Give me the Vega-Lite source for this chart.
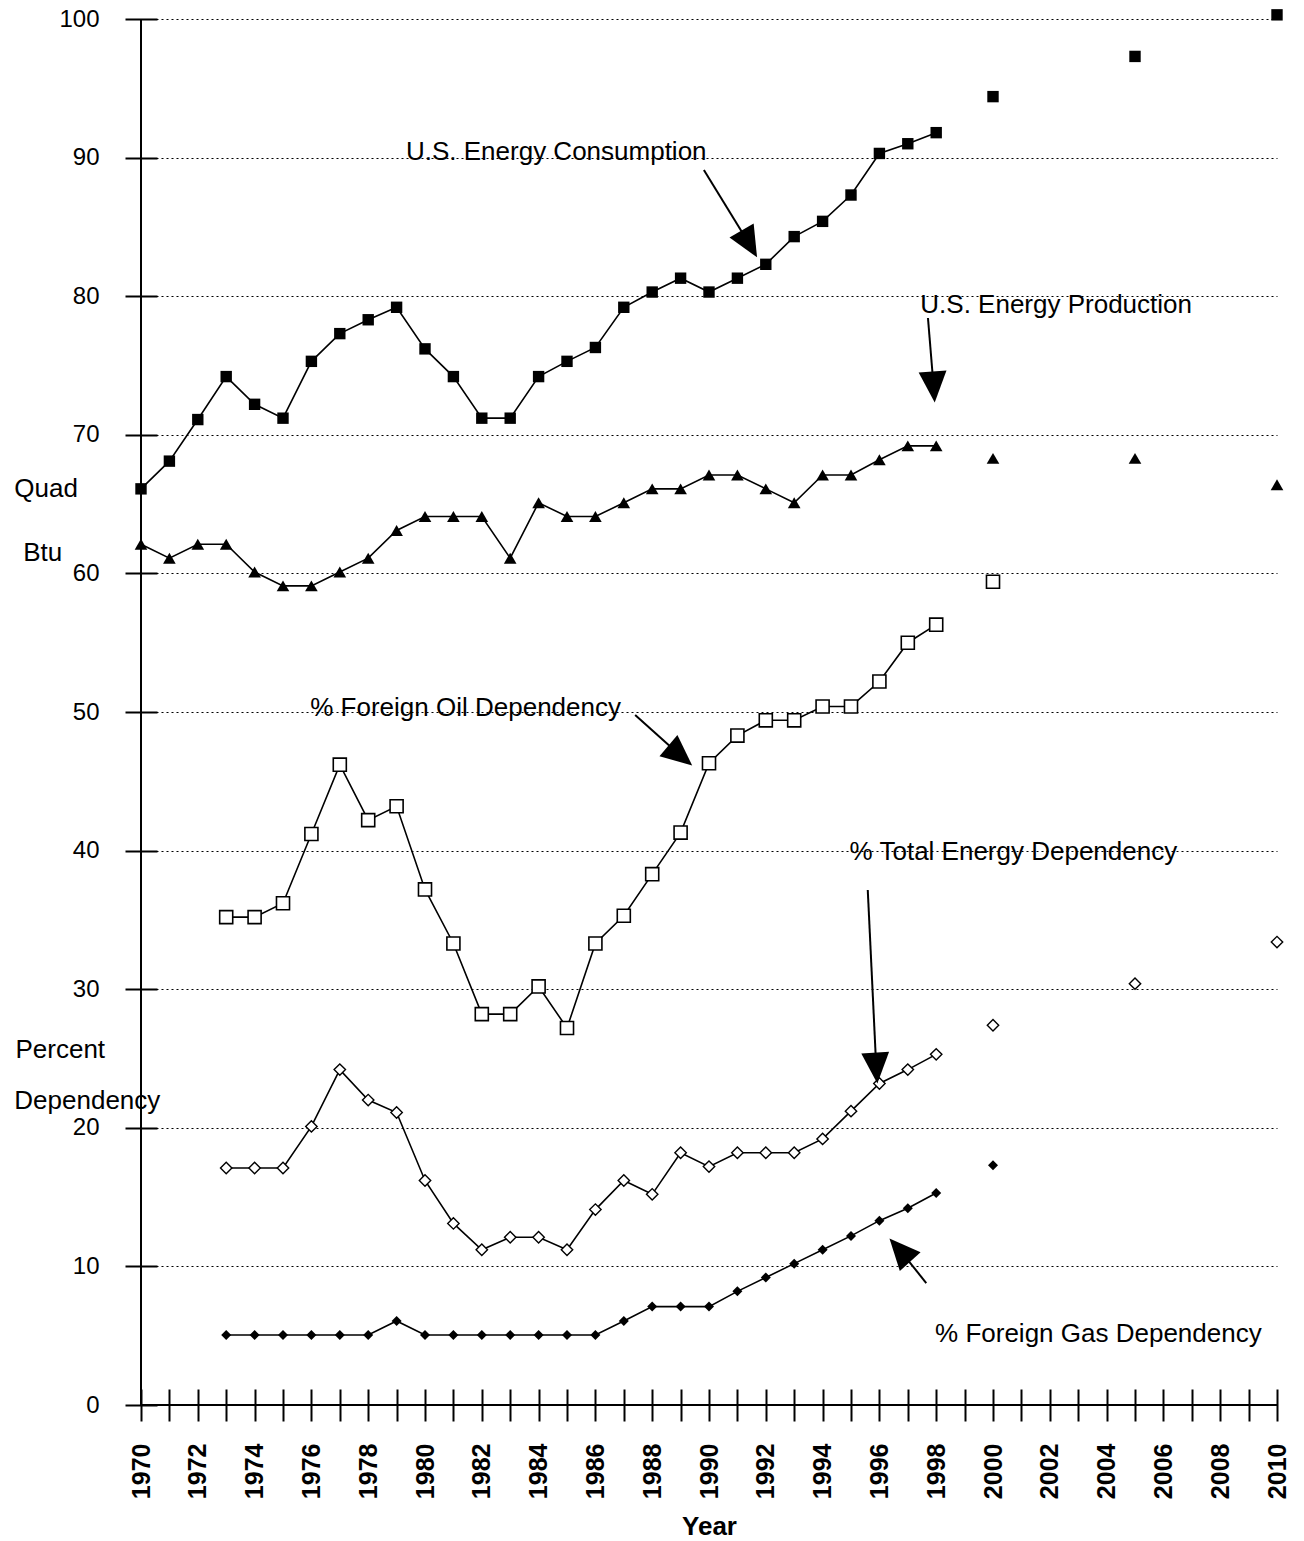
{
  "$schema": "https://vega.github.io/schema/vega-lite/v6.json",
  "width": 1136,
  "height": 1386,
  "autosize": {"type": "none"},
  "padding": {"left": 141, "top": 19, "right": 27, "bottom": 136},
  "background": "white",
  "config": {
    "view": {"stroke": null},
    "font": "Liberation Sans",
    "axis": {"labelColor": "black", "titleColor": "black", "tickColor": "black", "labelFont": "Liberation Sans", "titleFont": "Liberation Sans"}
  },
  "datasets": {
    "series": [
      {"s": "cons", "year": 1970, "value": 66.1, "proj": 0},
      {"s": "cons", "year": 1971, "value": 68.1, "proj": 0},
      {"s": "cons", "year": 1972, "value": 71.1, "proj": 0},
      {"s": "cons", "year": 1973, "value": 74.2, "proj": 0},
      {"s": "cons", "year": 1974, "value": 72.2, "proj": 0},
      {"s": "cons", "year": 1975, "value": 71.2, "proj": 0},
      {"s": "cons", "year": 1976, "value": 75.3, "proj": 0},
      {"s": "cons", "year": 1977, "value": 77.3, "proj": 0},
      {"s": "cons", "year": 1978, "value": 78.3, "proj": 0},
      {"s": "cons", "year": 1979, "value": 79.2, "proj": 0},
      {"s": "cons", "year": 1980, "value": 76.2, "proj": 0},
      {"s": "cons", "year": 1981, "value": 74.2, "proj": 0},
      {"s": "cons", "year": 1982, "value": 71.2, "proj": 0},
      {"s": "cons", "year": 1983, "value": 71.2, "proj": 0},
      {"s": "cons", "year": 1984, "value": 74.2, "proj": 0},
      {"s": "cons", "year": 1985, "value": 75.3, "proj": 0},
      {"s": "cons", "year": 1986, "value": 76.3, "proj": 0},
      {"s": "cons", "year": 1987, "value": 79.2, "proj": 0},
      {"s": "cons", "year": 1988, "value": 80.3, "proj": 0},
      {"s": "cons", "year": 1989, "value": 81.3, "proj": 0},
      {"s": "cons", "year": 1990, "value": 80.3, "proj": 0},
      {"s": "cons", "year": 1991, "value": 81.3, "proj": 0},
      {"s": "cons", "year": 1992, "value": 82.3, "proj": 0},
      {"s": "cons", "year": 1993, "value": 84.3, "proj": 0},
      {"s": "cons", "year": 1994, "value": 85.4, "proj": 0},
      {"s": "cons", "year": 1995, "value": 87.3, "proj": 0},
      {"s": "cons", "year": 1996, "value": 90.3, "proj": 0},
      {"s": "cons", "year": 1997, "value": 91.0, "proj": 0},
      {"s": "cons", "year": 1998, "value": 91.8, "proj": 0},
      {"s": "cons", "year": 2000, "value": 94.4, "proj": 1},
      {"s": "cons", "year": 2005, "value": 97.3, "proj": 1},
      {"s": "cons", "year": 2010, "value": 100.3, "proj": 1},
      {"s": "prod", "year": 1970, "value": 62.1, "proj": 0},
      {"s": "prod", "year": 1971, "value": 61.1, "proj": 0},
      {"s": "prod", "year": 1972, "value": 62.1, "proj": 0},
      {"s": "prod", "year": 1973, "value": 62.1, "proj": 0},
      {"s": "prod", "year": 1974, "value": 60.1, "proj": 0},
      {"s": "prod", "year": 1975, "value": 59.1, "proj": 0},
      {"s": "prod", "year": 1976, "value": 59.1, "proj": 0},
      {"s": "prod", "year": 1977, "value": 60.1, "proj": 0},
      {"s": "prod", "year": 1978, "value": 61.1, "proj": 0},
      {"s": "prod", "year": 1979, "value": 63.1, "proj": 0},
      {"s": "prod", "year": 1980, "value": 64.1, "proj": 0},
      {"s": "prod", "year": 1981, "value": 64.1, "proj": 0},
      {"s": "prod", "year": 1982, "value": 64.1, "proj": 0},
      {"s": "prod", "year": 1983, "value": 61.1, "proj": 0},
      {"s": "prod", "year": 1984, "value": 65.1, "proj": 0},
      {"s": "prod", "year": 1985, "value": 64.1, "proj": 0},
      {"s": "prod", "year": 1986, "value": 64.1, "proj": 0},
      {"s": "prod", "year": 1987, "value": 65.1, "proj": 0},
      {"s": "prod", "year": 1988, "value": 66.1, "proj": 0},
      {"s": "prod", "year": 1989, "value": 66.1, "proj": 0},
      {"s": "prod", "year": 1990, "value": 67.1, "proj": 0},
      {"s": "prod", "year": 1991, "value": 67.1, "proj": 0},
      {"s": "prod", "year": 1992, "value": 66.1, "proj": 0},
      {"s": "prod", "year": 1993, "value": 65.1, "proj": 0},
      {"s": "prod", "year": 1994, "value": 67.1, "proj": 0},
      {"s": "prod", "year": 1995, "value": 67.1, "proj": 0},
      {"s": "prod", "year": 1996, "value": 68.2, "proj": 0},
      {"s": "prod", "year": 1997, "value": 69.2, "proj": 0},
      {"s": "prod", "year": 1998, "value": 69.2, "proj": 0},
      {"s": "prod", "year": 2000, "value": 68.3, "proj": 1},
      {"s": "prod", "year": 2005, "value": 68.3, "proj": 1},
      {"s": "prod", "year": 2010, "value": 66.4, "proj": 1},
      {"s": "oil", "year": 1973, "value": 35.2, "proj": 0},
      {"s": "oil", "year": 1974, "value": 35.2, "proj": 0},
      {"s": "oil", "year": 1975, "value": 36.2, "proj": 0},
      {"s": "oil", "year": 1976, "value": 41.2, "proj": 0},
      {"s": "oil", "year": 1977, "value": 46.2, "proj": 0},
      {"s": "oil", "year": 1978, "value": 42.2, "proj": 0},
      {"s": "oil", "year": 1979, "value": 43.2, "proj": 0},
      {"s": "oil", "year": 1980, "value": 37.2, "proj": 0},
      {"s": "oil", "year": 1981, "value": 33.3, "proj": 0},
      {"s": "oil", "year": 1982, "value": 28.2, "proj": 0},
      {"s": "oil", "year": 1983, "value": 28.2, "proj": 0},
      {"s": "oil", "year": 1984, "value": 30.2, "proj": 0},
      {"s": "oil", "year": 1985, "value": 27.2, "proj": 0},
      {"s": "oil", "year": 1986, "value": 33.3, "proj": 0},
      {"s": "oil", "year": 1987, "value": 35.3, "proj": 0},
      {"s": "oil", "year": 1988, "value": 38.3, "proj": 0},
      {"s": "oil", "year": 1989, "value": 41.3, "proj": 0},
      {"s": "oil", "year": 1990, "value": 46.3, "proj": 0},
      {"s": "oil", "year": 1991, "value": 48.3, "proj": 0},
      {"s": "oil", "year": 1992, "value": 49.4, "proj": 0},
      {"s": "oil", "year": 1993, "value": 49.4, "proj": 0},
      {"s": "oil", "year": 1994, "value": 50.4, "proj": 0},
      {"s": "oil", "year": 1995, "value": 50.4, "proj": 0},
      {"s": "oil", "year": 1996, "value": 52.2, "proj": 0},
      {"s": "oil", "year": 1997, "value": 55.0, "proj": 0},
      {"s": "oil", "year": 1998, "value": 56.3, "proj": 0},
      {"s": "oil", "year": 2000, "value": 59.4, "proj": 1},
      {"s": "total", "year": 1973, "value": 17.1, "proj": 0},
      {"s": "total", "year": 1974, "value": 17.1, "proj": 0},
      {"s": "total", "year": 1975, "value": 17.1, "proj": 0},
      {"s": "total", "year": 1976, "value": 20.1, "proj": 0},
      {"s": "total", "year": 1977, "value": 24.2, "proj": 0},
      {"s": "total", "year": 1978, "value": 22.0, "proj": 0},
      {"s": "total", "year": 1979, "value": 21.1, "proj": 0},
      {"s": "total", "year": 1980, "value": 16.2, "proj": 0},
      {"s": "total", "year": 1981, "value": 13.1, "proj": 0},
      {"s": "total", "year": 1982, "value": 11.2, "proj": 0},
      {"s": "total", "year": 1983, "value": 12.1, "proj": 0},
      {"s": "total", "year": 1984, "value": 12.1, "proj": 0},
      {"s": "total", "year": 1985, "value": 11.2, "proj": 0},
      {"s": "total", "year": 1986, "value": 14.1, "proj": 0},
      {"s": "total", "year": 1987, "value": 16.2, "proj": 0},
      {"s": "total", "year": 1988, "value": 15.2, "proj": 0},
      {"s": "total", "year": 1989, "value": 18.2, "proj": 0},
      {"s": "total", "year": 1990, "value": 17.2, "proj": 0},
      {"s": "total", "year": 1991, "value": 18.2, "proj": 0},
      {"s": "total", "year": 1992, "value": 18.2, "proj": 0},
      {"s": "total", "year": 1993, "value": 18.2, "proj": 0},
      {"s": "total", "year": 1994, "value": 19.2, "proj": 0},
      {"s": "total", "year": 1995, "value": 21.2, "proj": 0},
      {"s": "total", "year": 1996, "value": 23.2, "proj": 0},
      {"s": "total", "year": 1997, "value": 24.2, "proj": 0},
      {"s": "total", "year": 1998, "value": 25.3, "proj": 0},
      {"s": "total", "year": 2000, "value": 27.4, "proj": 1},
      {"s": "total", "year": 2005, "value": 30.4, "proj": 1},
      {"s": "total", "year": 2010, "value": 33.4, "proj": 1},
      {"s": "gas", "year": 1973, "value": 5.05, "proj": 0},
      {"s": "gas", "year": 1974, "value": 5.05, "proj": 0},
      {"s": "gas", "year": 1975, "value": 5.05, "proj": 0},
      {"s": "gas", "year": 1976, "value": 5.05, "proj": 0},
      {"s": "gas", "year": 1977, "value": 5.05, "proj": 0},
      {"s": "gas", "year": 1978, "value": 5.05, "proj": 0},
      {"s": "gas", "year": 1979, "value": 6.06, "proj": 0},
      {"s": "gas", "year": 1980, "value": 5.05, "proj": 0},
      {"s": "gas", "year": 1981, "value": 5.05, "proj": 0},
      {"s": "gas", "year": 1982, "value": 5.05, "proj": 0},
      {"s": "gas", "year": 1983, "value": 5.05, "proj": 0},
      {"s": "gas", "year": 1984, "value": 5.05, "proj": 0},
      {"s": "gas", "year": 1985, "value": 5.05, "proj": 0},
      {"s": "gas", "year": 1986, "value": 5.05, "proj": 0},
      {"s": "gas", "year": 1987, "value": 6.06, "proj": 0},
      {"s": "gas", "year": 1988, "value": 7.1, "proj": 0},
      {"s": "gas", "year": 1989, "value": 7.1, "proj": 0},
      {"s": "gas", "year": 1990, "value": 7.1, "proj": 0},
      {"s": "gas", "year": 1991, "value": 8.2, "proj": 0},
      {"s": "gas", "year": 1992, "value": 9.2, "proj": 0},
      {"s": "gas", "year": 1993, "value": 10.2, "proj": 0},
      {"s": "gas", "year": 1994, "value": 11.2, "proj": 0},
      {"s": "gas", "year": 1995, "value": 12.2, "proj": 0},
      {"s": "gas", "year": 1996, "value": 13.3, "proj": 0},
      {"s": "gas", "year": 1997, "value": 14.2, "proj": 0},
      {"s": "gas", "year": 1998, "value": 15.3, "proj": 0},
      {"s": "gas", "year": 2000, "value": 17.3, "proj": 1}
    ],
    "notes": [
      {"t": "U.S. Energy Consumption", "x": 1979.33, "y": 90.4},
      {"t": "U.S. Energy Production", "x": 1997.44, "y": 79.37},
      {"t": "% Foreign Oil Dependency", "x": 1975.96, "y": 50.29},
      {"t": "% Total Energy Dependency", "x": 1994.95, "y": 39.9},
      {"t": "% Foreign Gas Dependency", "x": 1997.96, "y": 5.12},
      {"t": "Quad", "x": 1965.54, "y": 66.09},
      {"t": "Btu", "x": 1965.85, "y": 61.47},
      {"t": "Percent", "x": 1965.58, "y": 25.61},
      {"t": "Dependency", "x": 1965.54, "y": 21.93}
    ],
    "arrows": [
      {"x1": 1989.82, "y1": 89.11, "x2": 1991.42, "y2": 83.77, "a": 150},
      {"x1": 1997.71, "y1": 78.43, "x2": 1997.91, "y2": 73.45, "a": 176},
      {"x1": 1987.4, "y1": 49.78, "x2": 1988.99, "y2": 46.86, "a": 130},
      {"x1": 1995.59, "y1": 37.16, "x2": 1995.89, "y2": 24.31, "a": 176},
      {"x1": 1997.65, "y1": 8.8, "x2": 1996.72, "y2": 11.18, "a": 318}
    ]
  },
  "layer": [
    {
      "data": {"name": "series"},
      "transform": [{"filter": "datum.proj == 0"}],
      "mark": {"type": "line", "color": "black", "strokeWidth": 1.6},
      "encoding": {
        "x": {
          "field": "year", "type": "quantitative",
          "scale": {"domain": [1970, 2010], "nice": false, "zero": false},
          "axis": {
            "values": [1970,1971,1972,1973,1974,1975,1976,1977,1978,1979,1980,1981,1982,1983,1984,1985,1986,1987,1988,1989,1990,1991,1992,1993,1994,1995,1996,1997,1998,1999,2000,2001,2002,2003,2004,2005,2006,2007,2008,2009,2010],
            "tickCount": 100,
            "format": "d",
            "labelExpr": "datum.value % 2 === 0 ? datum.label : ''",
            "labelAngle": -90,
            "labelAlign": "right",
            "labelBaseline": "middle",
            "labelFontSize": 25,
            "labelFontWeight": "bold",
            "labelPadding": 22,
            "labelOverlap": false,
            "labelFlush": false,
            "tickSize": 32,
            "tickWidth": 2,
            "offset": -16,
            "domain": false,
            "grid": false,
            "title": "Year",
            "titleFontSize": 26,
            "titleFontWeight": "bold",
            "titlePadding": 15
          }
        },
        "y": {
          "field": "value", "type": "quantitative",
          "scale": {"domain": [0, 100], "nice": false, "zero": false},
          "axis": {
            "values": [0,10,20,30,40,50,60,70,80,90,100],
            "tickCount": 100,
            "labelFontSize": 24,
            "labelFontWeight": "normal",
            "labelPadding": 26,
            "tickSize": 32,
            "tickWidth": 2,
            "offset": -16,
            "domain": false,
            "grid": true,
            "gridColor": "black",
            "gridDash": [2, 3],
            "gridWidth": 1.2,
            "title": null
          }
        },
        "detail": {"field": "s"}
      }
    },
    {
      "data": {"name": "series"},
      "transform": [{"filter": "datum.s == 'cons'"}],
      "mark": {"type": "point", "shape": "square", "filled": true, "color": "black", "size": 130, "opacity": 1},
      "encoding": {
        "x": {"field": "year", "type": "quantitative"},
        "y": {"field": "value", "type": "quantitative"}
      }
    },
    {
      "data": {"name": "series"},
      "transform": [{"filter": "datum.s == 'prod'"}],
      "mark": {"type": "point", "shape": "triangle-up", "filled": true, "color": "black", "size": 160, "opacity": 1},
      "encoding": {
        "x": {"field": "year", "type": "quantitative"},
        "y": {"field": "value", "type": "quantitative"}
      }
    },
    {
      "data": {"name": "series"},
      "transform": [{"filter": "datum.s == 'oil'"}],
      "mark": {"type": "point", "shape": "square", "filled": false, "fill": "white", "fillOpacity": 1, "stroke": "black", "strokeWidth": 1.6, "size": 170, "opacity": 1},
      "encoding": {
        "x": {"field": "year", "type": "quantitative"},
        "y": {"field": "value", "type": "quantitative"}
      }
    },
    {
      "data": {"name": "series"},
      "transform": [{"filter": "datum.s == 'total'"}],
      "mark": {"type": "point", "shape": "diamond", "filled": false, "fill": "white", "fillOpacity": 1, "stroke": "black", "strokeWidth": 1.4, "size": 130, "opacity": 1},
      "encoding": {
        "x": {"field": "year", "type": "quantitative"},
        "y": {"field": "value", "type": "quantitative"}
      }
    },
    {
      "data": {"name": "series"},
      "transform": [{"filter": "datum.s == 'gas'"}],
      "mark": {"type": "point", "shape": "diamond", "filled": true, "color": "black", "size": 100, "opacity": 1},
      "encoding": {
        "x": {"field": "year", "type": "quantitative"},
        "y": {"field": "value", "type": "quantitative"}
      }
    },
    {
      "data": {"values": [{}]},
      "mark": {"type": "rule", "color": "black", "strokeWidth": 2},
      "encoding": {"y": {"datum": 0, "type": "quantitative"}}
    },
    {
      "data": {"values": [{}]},
      "mark": {"type": "rule", "color": "black", "strokeWidth": 2},
      "encoding": {"x": {"datum": 1970, "type": "quantitative"}}
    },
    {
      "data": {"name": "notes"},
      "mark": {"type": "text", "align": "left", "baseline": "middle", "fontSize": 26, "font": "Liberation Sans", "color": "black"},
      "encoding": {
        "x": {"field": "x", "type": "quantitative"},
        "y": {"field": "y", "type": "quantitative"},
        "text": {"field": "t"}
      }
    },
    {
      "data": {"name": "arrows"},
      "mark": {"type": "rule", "color": "black", "strokeWidth": 2},
      "encoding": {
        "x": {"field": "x1", "type": "quantitative"},
        "y": {"field": "y1", "type": "quantitative"},
        "x2": {"field": "x2"},
        "y2": {"field": "y2"}
      }
    },
    {
      "data": {"name": "arrows"},
      "mark": {"type": "point", "shape": "M0,-1L0.9,1L-0.9,1Z", "filled": true, "color": "black", "size": 960, "opacity": 1},
      "encoding": {
        "x": {"field": "x2", "type": "quantitative"},
        "y": {"field": "y2", "type": "quantitative"},
        "angle": {"field": "a", "type": "quantitative", "scale": null}
      }
    }
  ]
}
